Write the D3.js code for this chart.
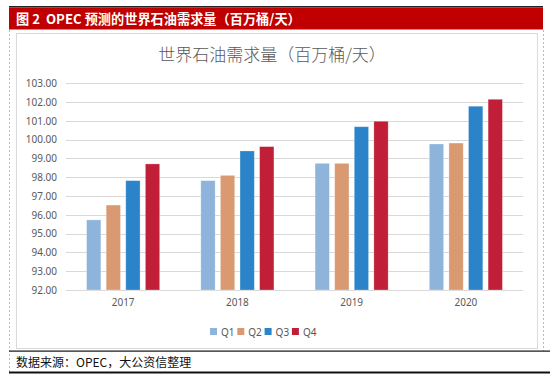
<!DOCTYPE html>
<html>
<head>
  <meta charset="utf-8">
  <title>OPEC 预测的世界石油需求量</title>
  <script src="https://cdn.jsdelivr.net/npm/d3@7"></script>
  <style>
    body { margin: 0; background: #fff; }
    svg { display: block; }
    text { white-space: pre; }
  </style>
</head>
<body>
<div id="chart"></div>
<script>
  // data
  const years = ["2017", "2018", "2019", "2020"];
  const quarters = ["Q1", "Q2", "Q3", "Q4"];
  const q1 = [95.73, 97.82, 98.74, 99.77];
  const q2 = [96.52, 98.10, 98.74, 99.82];
  const q3 = [97.82, 99.40, 100.69, 101.78];
  const q4 = [98.71, 99.63, 100.98, 102.15];
  const yTicks = [92, 93, 94, 95, 96, 97, 98, 99, 100, 101, 102, 103];
  const colors = ["#8eb4dc", "#d99a72", "#2b84c9", "#c11e38"];

  const series = [q1, q2, q3, q4];
  const w = 550, h = 385;
  const font = "'Noto Sans', 'Noto Sans CJK SC', sans-serif";

  const svg = d3.select("#chart").append("svg")
    .attr("width", w).attr("height", h);

  // header bar
  svg.append("rect").attr("x", 9).attr("y", 6).attr("width", 534).attr("height", 1.5).attr("fill", "#222");
  svg.append("rect").attr("x", 9).attr("y", 7.5).attr("width", 534).attr("height", 22).attr("fill", "#c00000");
  svg.append("text")
    .attr("x", 16).attr("y", 23.5)
    .attr("fill", "#fff")
    .attr("font-family", "'Noto Sans CJK SC', sans-serif")
    .attr("font-weight", "bold")
    .attr("font-size", 13.2)
    .text("图 2  OPEC 预测的世界石油需求量（百万桶/天）");

  // dotted side lines
  svg.append("line").attr("x1", 9.5).attr("x2", 9.5).attr("y1", 30).attr("y2", 372)
    .attr("stroke", "#bbb").attr("stroke-dasharray", "2,2");
  svg.append("line").attr("x1", 543.5).attr("x2", 543.5).attr("y1", 30).attr("y2", 351)
    .attr("stroke", "#bbb").attr("stroke-dasharray", "2,2");

  // chart box
  svg.append("rect").attr("x", 16.5).attr("y", 33.5).attr("width", 521).attr("height", 315)
    .attr("fill", "#fff").attr("stroke", "#d9d9d9");

  // title
  svg.append("text")
    .attr("x", 272).attr("y", 61)
    .attr("text-anchor", "middle")
    .attr("fill", "#595959")
    .attr("font-family", "'Noto Sans CJK SC', sans-serif")
    .attr("font-weight", 300)
    .attr("font-size", 17)
    .text("世界石油需求量（百万桶/天）");

  const plotL = 66, plotR = 523, plotT = 83.3, plotB = 290;

  const x = d3.scaleBand().domain(years).range([plotL, plotR]).paddingInner(0).paddingOuter(0);
  const xq = d3.scaleBand().domain(quarters).range([0, x.bandwidth()]).paddingInner(0.27).paddingOuter(1.05);
  const y = d3.scaleLinear().domain([92, 103]).range([plotB, plotT]);

  // grid
  svg.append("g")
    .selectAll("line").data(yTicks).join("line")
    .attr("x1", plotL).attr("x2", plotR)
    .attr("y1", d => Math.round(y(d)) + 0.5).attr("y2", d => Math.round(y(d)) + 0.5)
    .attr("stroke", "#d9d9d9");

  // y labels
  const yAxis = d3.axisLeft(y).tickValues(yTicks).tickFormat(d3.format(".2f")).tickSize(0).tickPadding(0);
  const ya = svg.append("g").attr("transform", `translate(57,0)`).call(yAxis);
  ya.select(".domain").remove();
  ya.selectAll("text").attr("fill", "#595959").attr("font-size", 10).attr("font-family", font);

  // x labels
  const xAxis = d3.axisBottom(x).tickSize(0).tickPadding(9);
  const xa = svg.append("g").attr("transform", `translate(0,${plotB})`).call(xAxis);
  xa.select(".domain").remove();
  xa.selectAll("text").attr("fill", "#595959").attr("font-size", 10).attr("font-family", font);

  // bars
  const groups = svg.append("g").selectAll("g").data(years).join("g")
    .attr("transform", d => `translate(${x(d)},0)`);
  groups.selectAll("rect")
    .data((d, i) => quarters.map((q, j) => ({ q: q, v: series[j][i], c: colors[j] })))
    .join("rect")
    .attr("x", d => xq(d.q))
    .attr("width", xq.bandwidth())
    .attr("y", d => y(d.v))
    .attr("height", d => plotB - y(d.v))
    .attr("fill", d => d.c)
    .attr("stroke", "#ffffff")
    .attr("stroke-opacity", 0.35)
    .attr("stroke-width", 0.8);

  // legend
  const legend = svg.append("g").selectAll("g").data(quarters).join("g")
    .attr("transform", (d, i) => `translate(${210 + i * 27.3},328)`);
  legend.append("rect").attr("width", 7).attr("height", 7).attr("fill", (d, i) => colors[i]);
  legend.append("text").attr("x", 11).attr("y", 7.5)
    .attr("fill", "#595959").attr("font-size", 10).attr("font-family", font)
    .text(d => d);

  // footer
  svg.append("rect").attr("x", 9).attr("y", 350.5).attr("width", 541).attr("height", 1.2).attr("fill", "#111");
  svg.append("text")
    .attr("x", 16).attr("y", 367)
    .attr("fill", "#111")
    .attr("font-family", "'Noto Sans CJK SC', sans-serif")
    .attr("font-size", 12)
    .text("数据来源：OPEC，大公资信整理");
  svg.append("rect").attr("x", 9).attr("y", 371.5).attr("width", 541).attr("height", 2).attr("fill", "#111");
</script>
</body>
</html>
